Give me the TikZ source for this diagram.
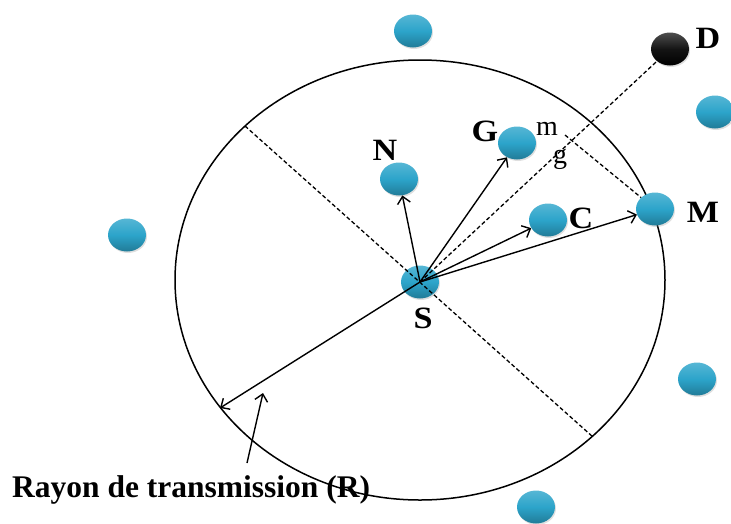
\documentclass[tikz,border=0pt]{standalone}
\usepackage{fontspec}
\setmainfont{Liberation Serif}
\usetikzlibrary{arrows.meta,shapes.geometric,shadows}
\definecolor{ballc}{RGB}{44,164,202}
\definecolor{balld}{RGB}{20,20,20}
\newcommand{\widelab}[1]{\scalebox{1.1}[1]{#1}}
\begin{document}
\begin{tikzpicture}[x=1pt,y=-1pt,
  ballbase/.style={ellipse, inner sep=0pt, minimum width=38pt, minimum height=33pt,
    drop shadow={opacity=0.25, shadow xshift=1pt, shadow yshift=-1.5pt}},
  ball/.style={ballbase, top color=ballc!80!white, bottom color=ballc!75!black, middle color=ballc},
  blackball/.style={ballbase, top color=balld!75!white, bottom color=black, middle color=balld},
  lab/.style={anchor=base, inner sep=0pt, font=\fontsize{31}{33}\selectfont\bfseries},
  sml/.style={anchor=base, inner sep=0pt, font=\fontsize{28}{30}\selectfont},
  arr/.style={-{Straight Barb[length=7pt,width=13pt]}, line width=1.4pt},
  dsh/.style={dash pattern=on 4pt off 2.5pt, line width=1.3pt},
  circ/.style={line width=1.5pt}
]
\useasboundingbox (0,0) rectangle (731,523);

% transmission circle
\draw[circ] (420,280) ellipse [x radius=245pt, y radius=220pt];

% free ends on the circle
\coordinate (P1) at (245,126);
\coordinate (P2) at (593,437);
\coordinate (Rc) at (220,408);
\coordinate (mp) at (565,135);
\coordinate (lt) at (247,463);
\coordinate (lh) at (263,393);

% nodes
\node[ball] (T)  at (413,31) {};
\node[blackball] (D) at (670,49) {};
\node[ball] (RT) at (715,112) {};
\node[ball] (G)  at (517,143) {};
\node[ball] (N)  at (399,179) {};
\node[ball] (C)  at (548,220) {};
\node[ball] (M)  at (655,209) {};
\node[ball] (L)  at (127,235) {};
\node[ball] (S)  at (420,282) {};
\node[ball] (RB) at (697,379) {};
\node[ball] (B)  at (536,507) {};

% dashed lines
\draw[dsh] (P1) -- (P2);
\draw[dsh] (S.center) -- (D);
\draw[dsh] (mp) -- (M);

% arrows
\draw[arr] (S.center) -- (N);
\draw[arr] (S.center) -- (G);
\draw[arr] (S.center) -- (C);
\draw[arr] (S.center) -- (M);
\draw[arr] (S.center) -- (Rc);
\draw[arr] (lt) -- (lh);

% labels
\node[lab] (lD) at (708,48) {\widelab{D}};
\node[lab] (lG) at (485,141) {\widelab{G}};
\node[sml] (lm) at (547,135) {m};
\node[sml] (lg) at (560,163) {g};
\node[lab] (lN) at (385,160) {\widelab{N}};
\node[lab] (lC) at (581,228) {\widelab{C}};
\node[lab] (lM) at (703,222) {\widelab{M}};
\node[lab] (lS) at (423,328) {\widelab{S}};
\node[anchor=base west, inner sep=0pt, font=\fontsize{31.5}{34}\selectfont\bfseries] (lR) at (12,497) {Rayon de transmission (R)};
\end{tikzpicture}
\end{document}
